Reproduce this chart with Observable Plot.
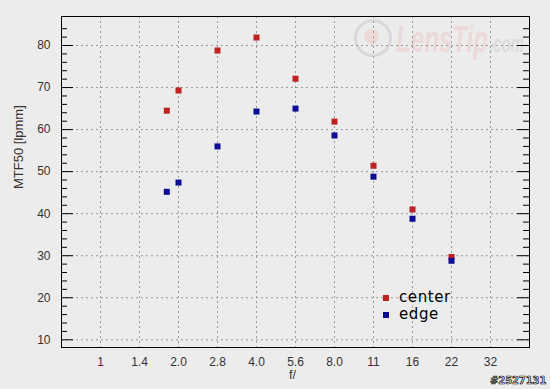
<!DOCTYPE html>
<html><head><meta charset="utf-8">
<script src="https://cdn.jsdelivr.net/npm/d3@7"></script>
<script src="https://cdn.jsdelivr.net/npm/@observablehq/plot@0.6"></script>
<style>
html,body{margin:0;padding:0;background:#ececec;}
#wrap{position:relative;width:550px;height:389px;overflow:hidden;background:#ececec;}
#wrap svg{display:block;position:absolute;left:0;top:0;}
.wm-circle{position:absolute;left:354px;top:19px;width:32px;height:32px;border:3.5px solid #d9d9d9;border-radius:50%;}
.wm-inner{position:absolute;left:364px;top:29px;width:15px;height:15px;background:#eed9d9;border-radius:50%;}
.wm-text{position:absolute;left:396px;top:19px;font:italic bold 36px "Liberation Sans",Arial,sans-serif;color:#ecdada;white-space:nowrap;transform:scaleX(0.67);transform-origin:0 0;}
.wm-com{position:absolute;left:489px;top:31px;font:italic bold 23px "Liberation Sans",Arial,sans-serif;color:#dcdcdc;white-space:nowrap;transform:scaleX(0.65);transform-origin:0 0;}
.legend{position:absolute;left:383px;top:289px;font:15px "DejaVu Sans",sans-serif;color:#000;letter-spacing:0.6px;line-height:17px;}
.legend div{display:flex;align-items:center;}
.legend span.sw{display:inline-block;width:6px;height:6px;margin-right:10px;}
.stamp{position:absolute;left:490px;top:375px;font:bold 10px "DejaVu Sans",sans-serif;color:#e6e6e6;-webkit-text-stroke:0.7px #111;letter-spacing:-0.1px;white-space:nowrap;}
</style></head><body><div id="wrap"></div>
<script>
// f-number labels of the measured apertures and their position in stops from f/1
const apertures = ["1.8","2.0","2.8","4.0","5.6","8.0","11","16","22"];
const stops = [1.7, 2, 3, 4, 5, 6, 7, 8, 9];
const center = [64.5, 69.3, 78.8, 81.9, 72.1, 61.9, 51.4, 41.0, 29.7];
const edge = [45.2, 47.4, 56.0, 64.3, 65.0, 58.6, 48.8, 38.8, 28.8];
const xTickStops = [0, 1, 2, 3, 4, 5, 6, 7, 8, 9, 10];
const xTickLabels = ["1","1.4","2.0","2.8","4.0","5.6","8.0","11","16","22","32"];
const yTicks = [10, 20, 30, 40, 50, 60, 70, 80];
const yMinorTicks = [12,14,16,18,22,24,26,28,32,34,36,38,42,44,46,48,52,54,56,58,62,64,66,68,72,74,76,78,82,84];
const seriesNames = ["center", "edge"];
const seriesColors = ["#be2222", "#0c0c94"];

const rows = apertures.map((a, i) => ({aperture: a, stop: stops[i], center: center[i], edge: edge[i]}));

const W = 550, H = 389, mL = 61, mR = 21, mT = 16, mB = 42;
const innerW = W - mL - mR;
const font = '"Liberation Sans", Arial, sans-serif';

const chart = Plot.plot({
  width: W, height: H,
  marginLeft: mL, marginRight: mR, marginTop: mT, marginBottom: mB,
  style: {background: "transparent", fontFamily: font, fontSize: "12px", color: "#333"},
  x: {domain: [-1, 11], ticks: xTickStops, tickFormat: i => xTickLabels[i], tickSize: 0, tickPadding: 10, label: null},
  y: {domain: [8.17, 86.9], ticks: yTicks, tickSize: 0, tickPadding: 11, label: null},
  marks: [
    Plot.ruleY(yTicks, {stroke: "#9a9a9a", strokeDasharray: "2,3"}),
    Plot.ruleX(xTickStops, {stroke: "#9a9a9a", strokeDasharray: "2,3"}),
    Plot.tickY(yTicks, {stroke: "#000", insetRight: innerW - 12}),
    Plot.tickY(yMinorTicks, {stroke: "#000", insetRight: innerW - 6}),
    Plot.tickY(yTicks, {stroke: "#000", insetLeft: innerW - 12}),
    Plot.tickY(yMinorTicks, {stroke: "#000", insetLeft: innerW - 6}),
    Plot.frame({stroke: "#000"}),
    Plot.dot(rows, {x: "stop", y: "center", symbol: "square", r: 3.4, fill: seriesColors[0], stroke: null}),
    Plot.dot(rows, {x: "stop", y: "edge", symbol: "square", r: 3.4, fill: seriesColors[1], stroke: null}),
    Plot.text(["MTF50 [lpmm]"], {frameAnchor: "left", rotate: -90, dx: -43, dy: 7, fontSize: 13, fill: "#333", style: "letter-spacing:1px"}),
    Plot.text(["f/"], {frameAnchor: "bottom", dy: 31, dx: -3, fontSize: 12.5, fill: "#333"})
  ]
});

const wrap = document.getElementById("wrap");
// watermark (behind the chart)
const add = (cls, txt) => { const d = document.createElement("div"); d.className = cls; if (txt) d.textContent = txt; wrap.appendChild(d); return d; };
add("wm-circle");
add("wm-inner");
add("wm-text", "LensTip");
add("wm-com", ".com");
wrap.appendChild(chart);
// legend
const lg = document.createElement("div"); lg.className = "legend";
seriesNames.forEach((n, i) => {
  const row = document.createElement("div");
  const sw = document.createElement("span"); sw.className = "sw"; sw.style.background = seriesColors[i];
  row.appendChild(sw); row.appendChild(document.createTextNode(n));
  lg.appendChild(row);
});
wrap.appendChild(lg);
add("stamp", "#2527131");
</script>
</body></html>
